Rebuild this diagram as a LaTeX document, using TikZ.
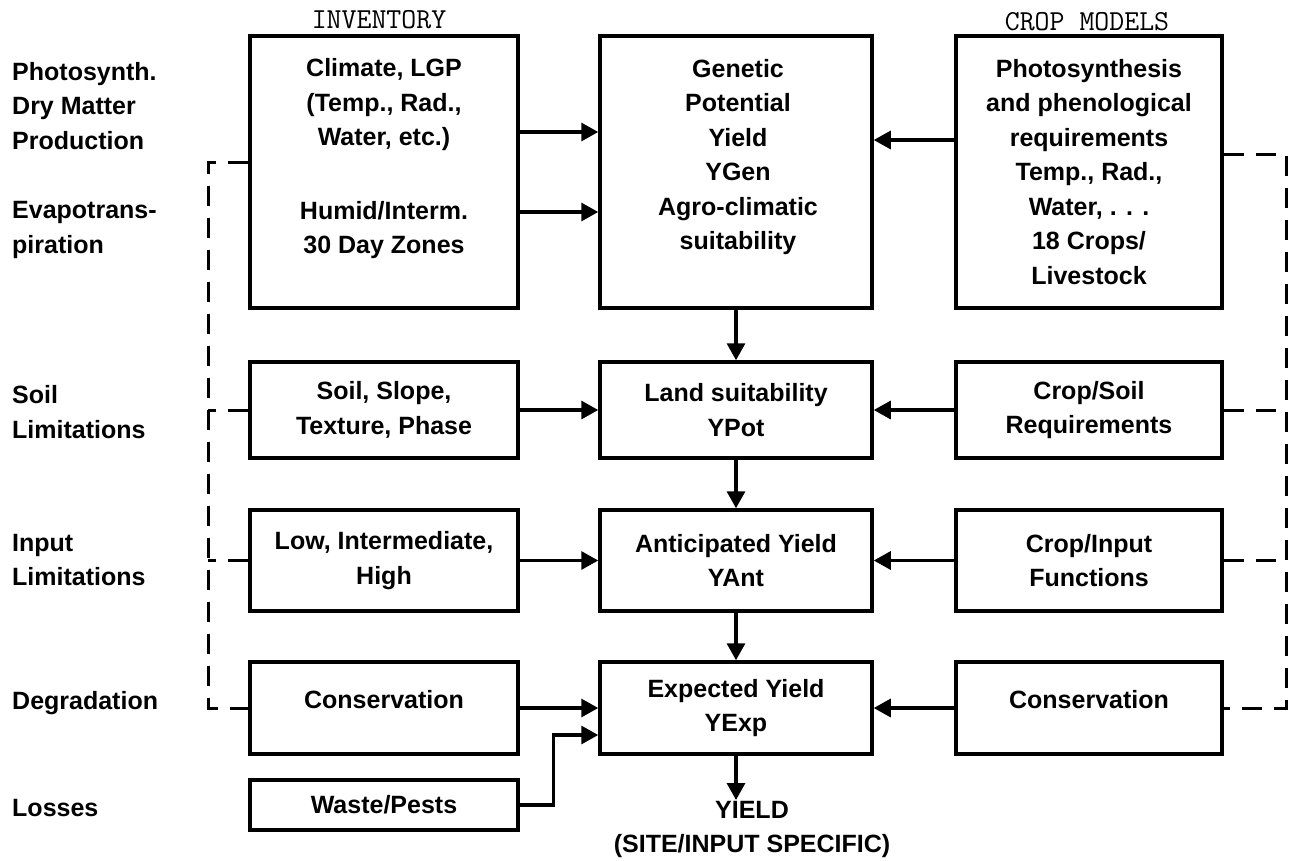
\documentclass[tikz,border=0pt]{standalone}
\usepackage{fontspec}
\setmainfont{Liberation Sans}
\usetikzlibrary{arrows.meta,calc}
\newcommand\mytxt{\fontsize{25}{34.5}\selectfont\bfseries}
\newcommand\myhdr{\ttfamily\fontsize{29}{32}\selectfont}
\begin{document}
\begin{tikzpicture}[x=1pt,y=-1pt,
  box/.style={draw, line width=3.5pt, inner sep=0pt, align=center, font=\mytxt},
  lcol/.style={box, minimum width=268pt},
  ccol/.style={box, minimum width=272pt},
  rcol/.style={box, minimum width=266pt},
  txt/.style={inner sep=0pt, align=center, font=\mytxt},
  lab/.style={inner sep=0pt, align=left, font=\mytxt, anchor=west},
  hdr/.style={inner sep=0pt, font=\myhdr},
  arr/.style={line width=3.2pt, -{Triangle[length=17pt,width=18pt]}},
  dsh/.style={line width=3pt, dash pattern=on 20pt off 12pt}]
\useasboundingbox (0,0) rectangle (1290,860);

% headers
\node[hdr] (hinv) at (379,20) {INVENTORY};
\node[hdr] (hcrop) at (1087,22) {CROP MODELS};

% left labels
\node[lab] (l1) at (12,106) {Photosynth.\\Dry Matter\\Production};
\node[lab] (l2) at (12,230) {Evapotrans-\\piration};
\node[lab] (l3) at (12,412) {Soil\\Limitations};
\node[lab] (l4) at (12,560) {Input\\Limitations};
\node[lab] (l5) at (12,703) {Degradation};
\node[lab] (l6) at (12,808) {Losses};

% top row
\node[lcol, minimum height=272pt] (clim) at (384,172) {};
\node[txt] (climt) at (384,105) {Climate, LGP\\(Temp., Rad.,\\Water, etc.)};
\node[txt] (humid) at (384,230) {Humid/Interm.\\30 Day Zones};
\node[ccol, minimum height=272pt] (gen) at (736,172) {};
\node[txt] (gent) at (738,157) {Genetic\\Potential\\Yield\\YGen\\Agro-climatic\\suitability};
\node[rcol, minimum height=272pt] (photo) at (1089,172) {Photosynthesis\\and phenological\\requirements\\Temp., Rad.,\\Water, . . .\\18 Crops/\\Livestock};

% soil row
\node[lcol, minimum height=96pt] (soill) at (384,410) {Soil, Slope,\\Texture, Phase};
\node[ccol, minimum height=96pt] (land) at (736,410) {Land suitability\\YPot};
\node[rcol, minimum height=96pt] (soilr) at (1089,410) {Crop/Soil\\Requirements};

% input row
\node[lcol, minimum height=101pt] (inl) at (384,560.5) {Low, Intermediate,\\High};
\node[ccol, minimum height=101pt] (ant) at (736,560.5) {Anticipated Yield\\YAnt};
\node[rcol, minimum height=101pt] (inr) at (1089,560.5) {Crop/Input\\Functions};

% degradation row
\node[lcol, minimum height=92pt] (conl) at (384,708) {};
\node[txt] (conlt) at (384,700) {Conservation};
\node[ccol, minimum height=92pt] (exp) at (736,708) {Expected Yield\\YExp};
\node[rcol, minimum height=92pt] (conr) at (1089,708) {};
\node[txt] (conrt) at (1089,700) {Conservation};

% losses
\node[lcol, minimum height=50pt] (waste) at (384,805) {Waste/Pests};

% yield
\node[txt, anchor=north, inner sep=1pt] (yield) at (752,800) {YIELD\\(SITE/INPUT SPECIFIC)};

% arrows
\draw[arr] ([yshift=40pt]clim.east) -- ([yshift=40pt]gen.west);
\draw[arr] ([yshift=-40pt]clim.east) -- ([yshift=-40pt]gen.west);
\draw[arr] ([yshift=32pt]photo.west) -- ([yshift=32pt]gen.east);
\draw[arr] (soill.east) -- (land.west);
\draw[arr] (soilr.west) -- (land.east);
\draw[arr] (inl.east) -- (inl.east -| ant.west);
\draw[arr] (inr.west) -- (inr.west -| ant.east);
\draw[arr] (conl.east) -- (conl.east -| exp.west);
\draw[arr] (conr.west) -- (conr.west -| exp.east);
\draw[arr] (waste.east) -- ++(34,0) |- ([yshift=-27pt]exp.west);
\draw[arr] (gen.south) -- (land.north);
\draw[arr] (land.south) -- (ant.north);
\draw[arr] (ant.south) -- (exp.north);
\draw[arr] (exp.south) -- (exp.south |- yield.north);

% dashed feedback lines
\coordinate (ltop) at (208,162);
\coordinate (rtop) at (1286,154);
\draw[dsh] (clim.west |- ltop) -- (ltop) |- (conl.west);
\draw[dsh] (soill.west) -- (soill.west -| ltop);
\draw[dsh] (inl.west) -- (inl.west -| ltop);
\draw[dsh] (photo.east |- rtop) -- (rtop) |- (conr.east);
\draw[dsh] (soilr.east) -- (soilr.east -| rtop);
\draw[dsh] (inr.east) -- (inr.east -| rtop);
\end{tikzpicture}
\end{document}
